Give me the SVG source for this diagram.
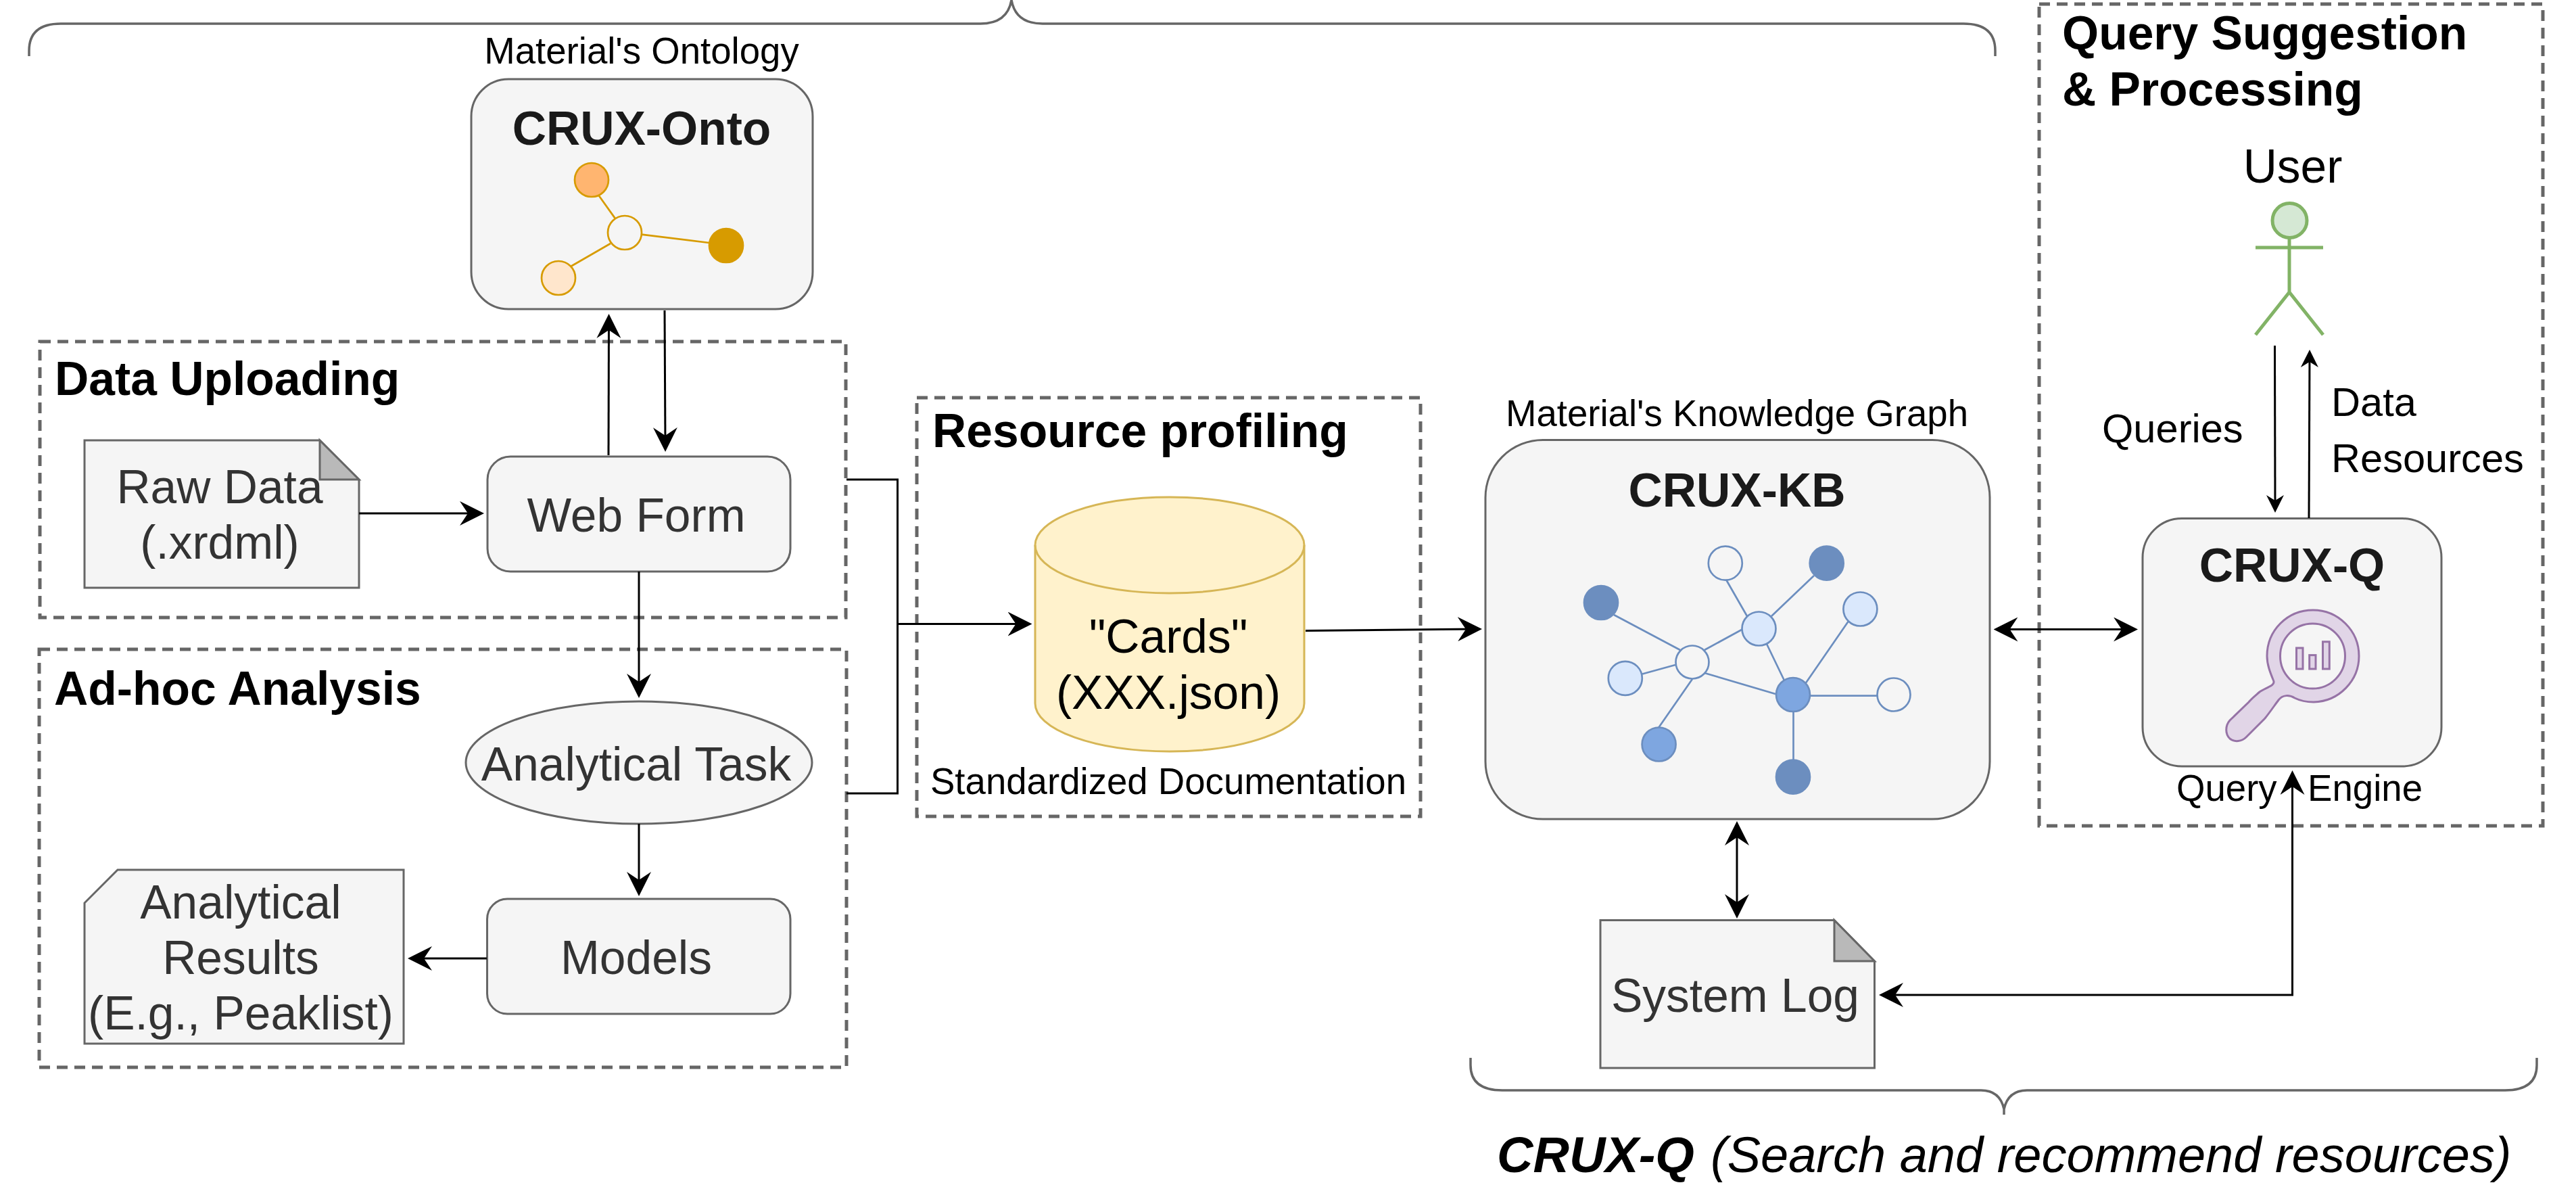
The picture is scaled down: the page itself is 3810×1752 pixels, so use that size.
<svg xmlns="http://www.w3.org/2000/svg" width="3810" height="1752" viewBox="0 0 3810 1752">
<style>
text{font-family:"Liberation Sans",Arial,sans-serif}
.lbl{font-size:69.500px;fill:#333;text-anchor:middle}
.blk{font-size:69.500px;fill:#000;text-anchor:middle}
.sm{font-size:54.600px;fill:#000;text-anchor:middle}
.mid{font-size:59.600px;fill:#000}
.head{font-size:69.600px;font-weight:bold;fill:#000}
.title{font-size:69.600px;font-weight:bold;fill:#1a1a1a;text-anchor:middle}
.box{fill:#f5f5f5;stroke:#666;stroke-width:3}
.fold{fill:#b9b9b9;stroke:#666;stroke-width:3}
.dash{fill:none;stroke:#666;stroke-width:5;stroke-dasharray:16 10}
.brace{fill:none;stroke:#666;stroke-width:3.500}
.con{fill:none;stroke:#000;stroke-width:3}
.big{marker-end:url(#ah)}
.both{marker-start:url(#ah);marker-end:url(#ah)}
.small{marker-end:url(#as)}
.ol{stroke:#d79b00;stroke-width:2.700;fill:none}
.on{stroke:#d79b00;stroke-width:2.700}
.kl{stroke:#6c8ebf;stroke-width:2.700;fill:none}
.kn{stroke:#6c8ebf;stroke-width:2.700}
.pur{fill:#e1d5e7;stroke:#9673a6;stroke-width:3}
.usr{fill:none;stroke:#82b366;stroke-width:5}
</style>
<defs>
<marker id="ah" markerUnits="userSpaceOnUse" markerWidth="36" markerHeight="36" viewBox="0 0 36 36" refX="26" refY="18" orient="auto-start-reverse"><path d="M36,18 L0,0 L12,18 L0,36 Z" fill="#000"/></marker>
<marker id="as" markerUnits="userSpaceOnUse" markerWidth="26" markerHeight="26" viewBox="0 0 26 26" refX="18" refY="13" orient="auto-start-reverse"><path d="M26,13 L0,0 L8,13 L0,26 Z" fill="#000"/></marker>
</defs>

<g id="brace-top"><path class="brace" d="M43,83 V75 Q43,35 90,35 H1450 Q1490,35 1496,0 Q1502,35 1542,35 H2904 Q2951,35 2951,75 V83"/></g>
<g id="brace-bottom"><path class="brace" d="M2175,1564 V1575 Q2175,1612 2222,1612 H2930 Q2958,1612 2964,1640 V1648 M2964,1640 Q2970,1612 2998,1612 H3705 Q3752,1612 3752,1575 V1564"/></g>
<text id="brace-bottom-label" x="2214" y="1733" style="font-size:74px;font-style:italic;fill:#000"><tspan font-weight="bold">CRUX-Q</tspan><tspan x="2530">(Search and recommend resources)</tspan></text>

<g id="data-uploading"><rect class="dash" x="59" y="505" width="1192" height="408"/><text class="head" x="81" y="584">Data Uploading</text></g>
<g id="adhoc-analysis"><rect class="dash" x="58" y="960" width="1194" height="618"/><text class="head" x="80" y="1042">Ad-hoc Analysis</text></g>
<g id="resource-profiling"><rect class="dash" x="1356" y="588" width="745" height="619"/><text class="head" x="1379" y="661">Resource profiling</text><text class="sm" x="1728" y="1174">Standardized Documentation</text></g>
<g id="query-suggestion"><rect class="dash" x="3016" y="6" width="745" height="1215"/><text class="head" x="3050" y="73">Query Suggestion</text><text class="head" x="3050" y="156">&amp; Processing</text></g>

<g id="crux-onto">
<text class="sm" x="949" y="94">Material's Ontology</text>
<rect class="box" x="697" y="117" width="505" height="340" rx="55" ry="55"/>
<text class="title" x="949" y="214">CRUX-Onto</text>
<path class="ol" d="M885.600,289 L909.600,322.600 M948.600,346.700 L1049,359 M903,360 L844,394"/>
<circle class="on" cx="924" cy="344" r="25" fill="#f5f5f5"/>
<circle class="on" cx="875" cy="266" r="25" fill="#ffb570"/>
<circle class="on" cx="1074" cy="363" r="25" fill="#d79b00"/>
<circle class="on" cx="826" cy="411" r="25" fill="#ffe6cc"/>
</g>

<g id="raw-data">
<path class="box" d="M125,651 H473 L531,709 V869 H125 Z"/>
<path class="fold" d="M473,651 L531,709 H473 Z"/>
<text class="lbl" x="325" y="744">Raw Data</text><text class="lbl" x="325" y="826">(.xrdml)</text>
</g>
<g id="web-form"><rect class="box" x="721" y="675" width="448" height="170" rx="34" ry="34"/><text class="lbl" x="941" y="786">Web Form</text></g>
<g id="analytical-task"><ellipse class="box" cx="945" cy="1127.500" rx="256" ry="90.500"/><text class="lbl" x="941" y="1154">Analytical Task</text></g>
<g id="models"><rect class="box" x="720.500" y="1329" width="448.500" height="170" rx="30" ry="30"/><text class="lbl" x="941" y="1440">Models</text></g>
<g id="analytical-results">
<path class="box" d="M174,1286 H597 V1543 H125 V1335 Z"/>
<text class="lbl" x="356" y="1358">Analytical</text><text class="lbl" x="356" y="1440">Results</text><text class="lbl" x="356" y="1522">(E.g., Peaklist)</text>
</g>

<g id="cards">
<path d="M1531,806 A199,71 0 0 1 1929,806 V1040 A199,71 0 0 1 1531,1040 Z" fill="#fff2cc" stroke="#d6b656" stroke-width="3"/>
<path d="M1531,806 A199,71 0 0 0 1929,806" fill="none" stroke="#d6b656" stroke-width="3"/>
<text class="blk" x="1728" y="965">"Cards"</text><text class="blk" x="1728" y="1048">(XXX.json)</text>
</g>

<g id="crux-kb">
<text class="sm" x="2569" y="630">Material's Knowledge Graph</text>
<rect class="box" x="2197" y="650.500" width="746" height="560.500" rx="85" ry="85"/>
<text class="title" x="2569" y="749">CRUX-KB</text>
<path class="kl" d="M2387,909 L2485,961 M2521,961 L2576,931 M2429,996.500 L2478,983 M2521,995 L2626,1026 M2453,1076 L2503,1004 M2553,857 L2584,911 M2683,851 L2620,911 M2612,950 L2639,1006 M2733.500,919 L2670,1011 M2677,1028.600 H2777 M2652.500,1051 V1125"/>
<circle class="kn" cx="2503" cy="979" r="24.500" fill="#f5f5f5"/>
<circle class="kn" cx="2601.500" cy="929.500" r="25" fill="#dae8fc"/>
<circle class="kn" cx="2701.700" cy="832.700" r="25" fill="#6c8ebf"/>
<circle class="kn" cx="2551.800" cy="832.700" r="25" fill="#f5f5f5"/>
<circle class="kn" cx="2368" cy="891" r="25" fill="#6c8ebf"/>
<circle class="kn" cx="2751.400" cy="900.500" r="25" fill="#dae8fc"/>
<circle class="kn" cx="2403.800" cy="1002.800" r="25" fill="#dae8fc"/>
<circle class="kn" cx="2652" cy="1027" r="25" fill="#7ea6e0"/>
<circle class="kn" cx="2801" cy="1027" r="24.500" fill="#f5f5f5"/>
<circle class="kn" cx="2453.600" cy="1100.500" r="25" fill="#7ea6e0"/>
<circle class="kn" cx="2652" cy="1148.700" r="25" fill="#6c8ebf"/>
</g>

<g id="system-log">
<path class="box" d="M2367,1360.500 H2713 L2772.500,1421 V1579 H2367 Z"/>
<path class="fold" d="M2713,1360.500 L2772.500,1421 H2713 Z"/>
<text class="lbl" x="2566.500" y="1496">System Log</text>
</g>

<g id="user">
<text class="blk" x="3391" y="270">User</text>
<circle cx="3386.500" cy="326" r="25.500" fill="#d5e8d4" stroke="#82b366" stroke-width="5"/>
<path class="usr" d="M3386,351 V432 M3336,366 H3436 M3336,495 L3386,432 L3436,495"/>
</g>
<text id="queries-label" class="mid" x="3109" y="654">Queries</text>
<text id="data-resources-label" class="mid" x="3448" y="615">Data<tspan x="3448" y="698">Resources</tspan></text>

<g id="crux-q">
<rect class="box" x="3169" y="766.500" width="442" height="366.500" rx="58" ry="58"/>
<text class="title" x="3390" y="860">CRUX-Q</text>
<path class="pur" d="M3362.500,1006 C3366,1014 3352,1016 3342,1023 C3334,1030 3330,1033 3326,1038 L3298,1065 C3291,1073 3291,1085 3298,1092 C3305,1098 3316,1096 3322,1090 L3350,1062 C3358,1052 3364,1043 3370,1035 C3376,1027 3386,1027 3394,1032 C3404,1037 3412,1038 3422,1038 C3460,1037 3489,1006 3489,970 C3489,932 3458,902 3421,902 C3383,902 3353,932 3353,970 C3353,983 3358,995 3362.500,1006 Z"/>
<ellipse cx="3420.500" cy="970" rx="48" ry="48" fill="#f5f5f5" stroke="#9673a6" stroke-width="3"/>
<rect class="pur" x="3396.500" y="958" width="9.500" height="31" stroke-width="2.500"/>
<rect class="pur" x="3415.700" y="968.600" width="9.300" height="20.400" stroke-width="2.500"/>
<rect class="pur" x="3435.500" y="948.800" width="9.800" height="40.200" stroke-width="2.500"/>
<text class="sm" x="3219" y="1184" style="text-anchor:start">Query<tspan x="3413">Engine</tspan></text>
</g>

<g id="connectors">
<path class="con big" d="M900,673 L900.500,474"/>
<path class="con big" d="M983,459 L984,658"/>
<path class="con big" d="M531,759 H706"/>
<path class="con big" d="M945,845 V1022"/>
<path class="con big" d="M945,1218 V1315"/>
<path class="con big" d="M720,1417 H613"/>
<path class="con" d="M1252,709 H1327.500 V1173 H1252"/>
<path class="con big" d="M1327.500,922.500 H1516.500"/>
<path class="con big" d="M1931,932.500 L2182,930"/>
<path class="con both" d="M2958.500,930.500 H3152"/>
<path class="con both" d="M2569,1224 V1348"/>
<path class="con both" d="M3390.500,1149 V1471 H2789"/>
<path class="con small" d="M3364.500,511 L3365,750"/>
<path class="con small" d="M3415,766 L3416,525"/>
</g>
</svg>
